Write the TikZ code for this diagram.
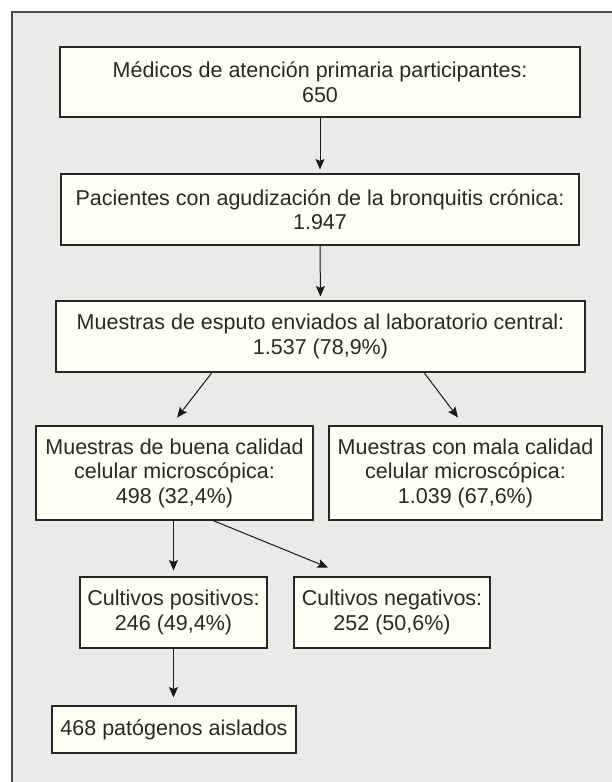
\documentclass[tikz,border=0pt]{standalone}
\usepackage{fontspec}
\setmainfont{Liberation Sans}
\usetikzlibrary{arrows.meta,calc}
\definecolor{bggray}{HTML}{EBEAE9}
\definecolor{boxfill}{HTML}{FFFFF4}
\definecolor{framecol}{HTML}{4A4A4A}
\definecolor{txtcol}{HTML}{282828}
\tikzset{
  box/.style={draw=black!85, line width=1.05pt, fill=boxfill, inner sep=0pt,
    align=center, text=txtcol, font=\fontsize{21.5}{24.5}\selectfont},
  arr/.style={draw=black!90, line width=1pt, -{Stealth[length=10.5pt,width=9pt,inset=2pt]}}
}
\begin{document}
\begin{tikzpicture}[x=1pt,y=-1pt]
\useasboundingbox (0,0) rectangle (612,782);
\fill[white] (0,0) rectangle (612,782);
\fill[bggray] (12,12) rectangle (612,782);
\draw[framecol, line width=1.5pt] (12,782) -- (12,12) -- (612,12);

\node[box, minimum width=520pt, minimum height=70pt] (b1) at (320,82)
  {Médicos de atención primaria participantes:\\650};
\node[box, minimum width=518pt, minimum height=71pt] (b2) at (320,209.5)
  {Pacientes con agudización de la bronquitis crónica:\\1.947};
\node[box, minimum width=529pt, minimum height=71pt] (b3) at (320.5,336.5)
  {Muestras de esputo enviados al laboratorio central:\\1.537 (78,9\%)};
\node[box, minimum width=277pt, minimum height=94pt] (b4) at (174.5,473)
  {Muestras de buena calidad\\celular microscópica:\\498 (32,4\%)};
\node[box, minimum width=273pt, minimum height=94pt] (b5) at (465.5,473)
  {Muestras con mala calidad\\celular microscópica:\\1.039 (67,6\%)};
\node[box, minimum width=187pt, minimum height=71pt] (b6) at (173.5,612.5)
  {Cultivos positivos:\\246 (49,4\%)};
\node[box, minimum width=196pt, minimum height=71pt] (b7) at (392,612.5)
  {Cultivos negativos:\\252 (50,6\%)};
\node[box, minimum width=244pt, minimum height=47pt] (b8) at (174,729.5)
  {468 patógenos aislados};

\draw[arr, shorten >=4pt] (b1.south) -- (b2.north);
\draw[arr, shorten >=4pt] (b2.south) -- (b3.north);
\draw[arr, shorten >=10pt] ([xshift=-108.5pt]b3.south) -- ([xshift=-3.5pt]b4.north);
\draw[arr, shorten >=10pt] ([xshift=103.5pt]b3.south) -- ([xshift=-1.5pt]b5.north);
\draw[arr, shorten >=6pt] (b6.north |- b4.south) -- (b6.north);
\draw[arr] ([xshift=38.5pt]b4.south) -- ([xshift=-64pt,yshift=9pt]b7.north);
\draw[arr, shorten >=8pt] (b6.south) -- (b6.south |- b8.north);
\end{tikzpicture}
\end{document}
